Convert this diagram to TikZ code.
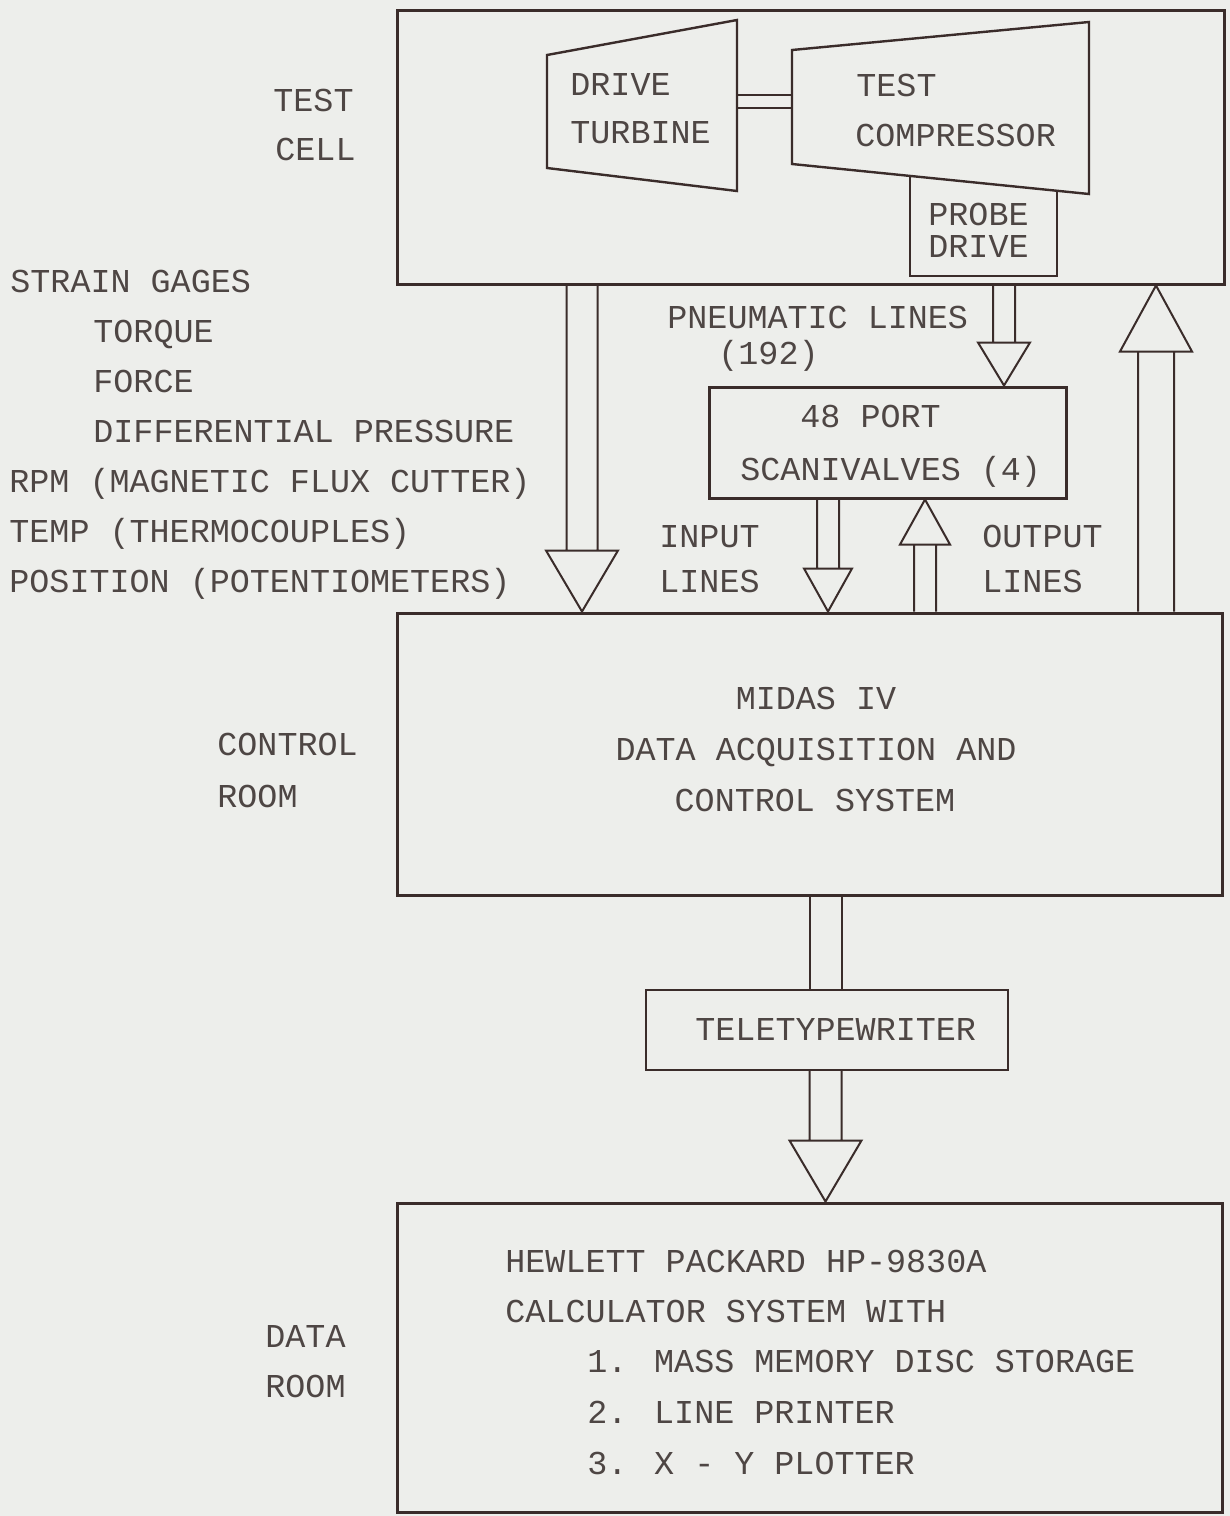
\documentclass[tikz,border=0pt]{standalone}
\usepackage{fontspec}
\newfontfamily\typewriter{Liberation Mono}
\usetikzlibrary{positioning,calc}

\definecolor{ink}{RGB}{58,44,42}
\definecolor{typeink}{RGB}{78,70,68}
\definecolor{paper}{RGB}{237,238,235}

% hollow double-line arrow: from, to, shaft half width, head half width, head length
\newcommand{\fatarrow}[5]{%
  \draw[flow] let \p1=(#1), \p2=(#2), \p3=($(#2)!#5!(#1)$) in
    (\x1-#3,\y1) -- (\x1-#3,\y3) (\x1+#3,\y1) -- (\x1+#3,\y3)
    (\x3-#4,\y3) -- (\x3+#4,\y3) -- (\x2,\y2) -- cycle;}

\begin{document}
\begin{tikzpicture}[x=0.5pt,y=-0.5pt,
every node/.style={font=\typewriter\fontsize{16.7}{25}\selectfont,text=typeink,inner sep=0pt},
label/.style={anchor=base west},
mid/.style={anchor=base},
unit/.style={draw=ink,line width=1.5pt,fill=paper,rectangle},
machine/.style={draw=ink,line width=1.2pt,line join=miter},
flow/.style={draw=ink,line width=1pt,line join=miter}]

\fill[paper] (0,0) rectangle (1230,1516);
\useasboundingbox (0,0) rectangle (1230,1516);

% boxes
\node[unit,minimum width=413.5pt,minimum height=137pt] (cell) at (810.5,147) {};
\node[unit,minimum width=412.5pt,minimum height=141pt] (ctrl) at (809.5,754) {};
\node[unit,minimum width=178.5pt,minimum height=55.5pt] (scan) at (887.5,442.5) {};
\node[unit,line width=1pt,minimum width=181pt,minimum height=40pt] (tty) at (827,1030) {};
\node[unit,minimum width=412.5pt,minimum height=154.5pt] (hp) at (809.5,1357.5) {};

% test cell machines
\coordinate (tbNW) at (547,55);  \coordinate (tbNE) at (737,20);
\coordinate (tbSE) at (737,191); \coordinate (tbSW) at (547,168);
\coordinate (cpNW) at (792,50);  \coordinate (cpNE) at (1089,22);
\coordinate (cpSE) at (1089,194); \coordinate (cpSW) at (792,164);
\draw[machine] (tbNW) -- (tbNE) -- (tbSE) -- (tbSW) -- cycle;
\node[unit,line width=1.2pt,minimum width=73.5pt,minimum height=58pt] (probe) at (983.5,218) {};
\draw[machine,fill=paper] (cpNW) -- (cpNE) -- (cpSE) -- (cpSW) -- cycle;
\coordinate (shT1) at (737,95);  \coordinate (shC1) at (792,95);
\coordinate (shT2) at (737,108); \coordinate (shC2) at (792,108);
\draw[machine] (shT1) -- (shC1) (shT2) -- (shC2);

\node[label] (drvA) at (570,95) {DRIVE};
\node[label] (drvB) at (570,143) {TURBINE};
\node[label] (cmpA) at (856,96) {TEST};
\node[label] (cmpB) at (855,146) {COMPRESSOR};
\node[label] (prbA) at (928,225) {PROBE};
\node[label] (prbB) at (928,257) {DRIVE};

% room labels
\node[label] (cellA) at (273,111) {TEST};
\node[label] (cellB) at (275,160) {CELL};
\node[label] (roomA) at (217,755) {CONTROL};
\node[label] (roomB) at (217,807) {ROOM};
\node[label] (dataA) at (265,1347) {DATA};
\node[label] (dataB) at (265,1397) {ROOM};

% instrumentation list
\node[label] (sg)   at (10,292) {STRAIN GAGES};
\node[label] (sgT)  at (93,342) {TORQUE};
\node[label] (sgF)  at (93,392) {FORCE};
\node[label] (sgD)  at (93,442) {DIFFERENTIAL PRESSURE};
\node[label] (rpm)  at (9,492)  {RPM (MAGNETIC FLUX CUTTER)};
\node[label] (temp) at (9,542)  {TEMP (THERMOCOUPLES)};
\node[label] (pos)  at (9,592)  {POSITION (POTENTIOMETERS)};

% line labels
\node[label] (pnA) at (667,328) {PNEUMATIC LINES};
\node[label] (pnB) at (718,364) {(192)};
\node[label] (inA) at (659,547) {INPUT};
\node[label] (inB) at (659,592) {LINES};
\node[label] (outA) at (982,547) {OUTPUT};
\node[label] (outB) at (982,592) {LINES};

% box texts
\node[label] (scanA) at (800,427) {48 PORT};
\node[label] (scanB) at (740,480) {SCANIVALVES (4)};
\node[mid] (ctrlA) at (816,709) {MIDAS IV};
\node[mid] (ctrlB) at (816,760) {DATA ACQUISITION AND};
\node[mid] (ctrlC) at (815,811) {CONTROL SYSTEM};
\node[label] (ttyA) at (695,1040) {TELETYPEWRITER};
\node[label] (hpA) at (505,1272) {HEWLETT PACKARD HP-9830A};
\node[label] (hpB) at (505,1322) {CALCULATOR SYSTEM WITH};
\node[label] (hpC) at (587,1372) {1. MASS MEMORY DISC STORAGE};
\node[label] (hpD) at (587,1423) {2. LINE PRINTER};
\node[label] (hpE) at (587,1474) {3. X - Y PLOTTER};

% arrow columns
\coordinate (colA) at (582,0);
\coordinate (colP) at (1004,0);
\coordinate (colR) at (1156,0);
\coordinate (colI) at (828,0);
\coordinate (colO) at (925,0);
\coordinate (colT) at (825.5,0);

% connectors
\fatarrow{cell.south -| colA}{ctrl.north -| colA}{7.75pt}{18pt}{30.5pt}
\fatarrow{cell.south -| colP}{scan.north -| colP}{5.5pt}{13pt}{21.5pt}
\fatarrow{ctrl.north -| colR}{cell.south -| colR}{9pt}{18pt}{33pt}
\fatarrow{scan.south -| colI}{ctrl.north -| colI}{5.5pt}{12pt}{21.5pt}
\fatarrow{ctrl.north -| colO}{scan.south -| colO}{5.5pt}{12.5pt}{22.5pt}
\draw[flow] let \p1=(ctrl.south -| colT), \p2=(tty.north -| colT) in
  (\x1-8pt,\y1) -- (\x1-8pt,\y2) (\x1+8pt,\y1) -- (\x1+8pt,\y2);
\fatarrow{tty.south -| colT}{hp.north -| colT}{8pt}{18pt}{30.5pt}
\end{tikzpicture}
\end{document}
